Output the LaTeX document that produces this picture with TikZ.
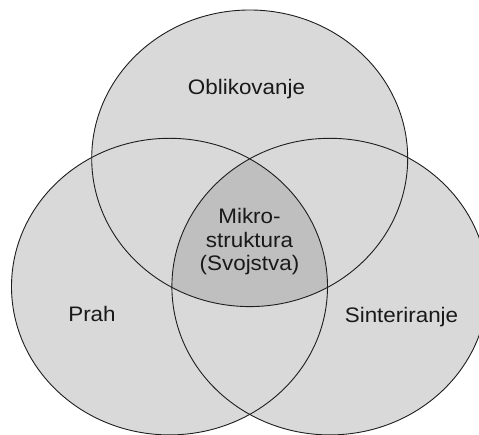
\documentclass[tikz,border=0pt]{standalone}
\usepackage{fontspec}
\setmainfont{Liberation Sans}
\definecolor{lightfill}{RGB}{217,217,217}
\definecolor{darkfill}{RGB}{191,191,191}
\definecolor{edge}{RGB}{30,30,30}
\newcommand{\vtext}[1]{\scalebox{1.067}[1]{#1}}
\begin{document}
\begin{tikzpicture}[x=1pt,y=-1pt,
  setshape/.style={x radius=158pt, y radius=148.3pt},
  label/.style={inner sep=0pt, anchor=base, text=black!90,
    font=\fontsize{21}{23.5}\selectfont}]
\useasboundingbox (0,0) rectangle (479,435);
\coordinate (ctop) at (249.7,158.3);
\coordinate (cleft) at (169.5,286.6);
\coordinate (cright) at (329.9,286.6);
% fills
\fill[lightfill] (ctop) ellipse [setshape];
\fill[lightfill] (cleft) ellipse [setshape];
\fill[lightfill] (cright) ellipse [setshape];
\begin{scope}
  \clip (ctop) ellipse [setshape];
  \clip (cleft) ellipse [setshape];
  \fill[darkfill] (cright) ellipse [setshape];
\end{scope}
% outlines
\draw[edge, line width=0.9pt] (ctop) ellipse [setshape];
\draw[edge, line width=0.9pt] (cleft) ellipse [setshape];
\draw[edge, line width=0.9pt] (cright) ellipse [setshape];
% labels
\node[label] (oblik) at (246.5,95) {\vtext{Oblikovanje}};
\node[label] (prah) at (92,322) {\vtext{Prah}};
\node[label] (sinter) at (401.5,322.7) {\vtext{Sinteriranje}};
\node[label] (mikro) at (249.5,224) {\vtext{\begin{tabular}[t]{@{}c@{}}Mikro-\\ struktura\\ (Svojstva)\end{tabular}}};
\end{tikzpicture}
\end{document}
